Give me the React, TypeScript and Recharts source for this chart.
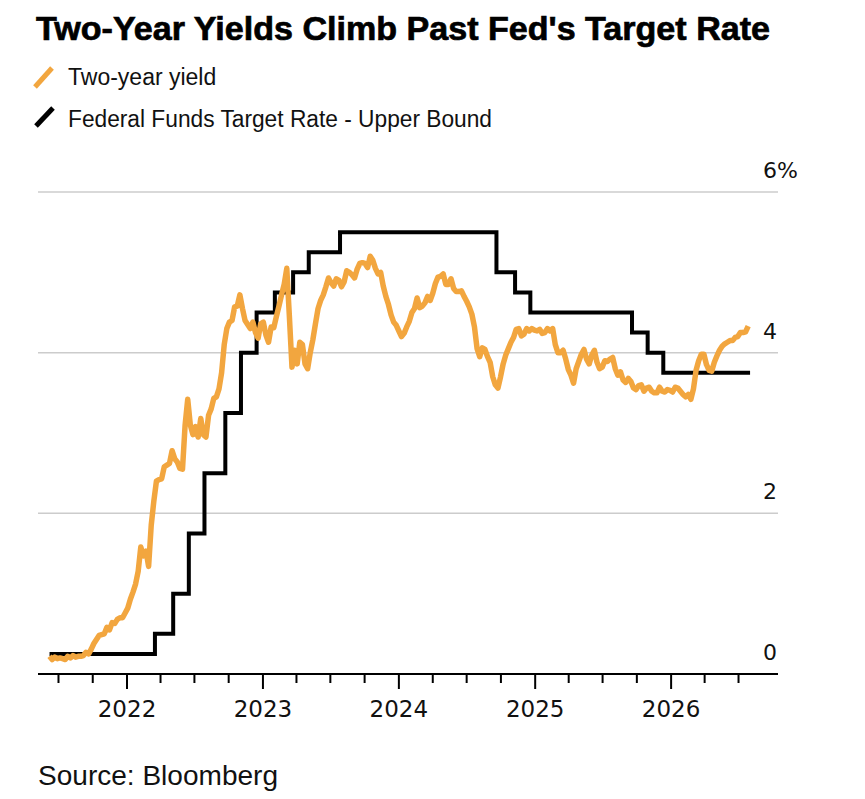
import React from 'react';
import { LineChart, Line, XAxis, YAxis, CartesianGrid } from 'recharts';

// weekly two-year yield readings, first week starting 2021-06-07
const yieldStart = '2021-06-07';
const yieldValues = [
  0.22, 0.18, 0.21, 0.19, 0.2, 0.19, 0.18, 0.22, 0.2, 0.23,
  0.21, 0.22, 0.22, 0.23, 0.27, 0.25, 0.31, 0.38, 0.43, 0.48,
  0.49, 0.5, 0.58, 0.55, 0.64, 0.63, 0.68, 0.7, 0.7, 0.76,
  0.82, 0.93, 1.02, 1.12, 1.28, 1.58, 1.47, 1.53, 1.34, 1.85,
  2.15, 2.4, 2.42, 2.43, 2.58, 2.6, 2.62, 2.78, 2.68, 2.64,
  2.56, 2.55, 3.1, 3.42, 3.1, 2.98, 3.08, 2.95, 3.18, 2.98,
  2.95, 3.22, 3.3, 3.43, 3.45, 3.55, 3.75, 4.1, 4.3, 4.38,
  4.4, 4.57, 4.58, 4.72, 4.55, 4.4, 4.35, 4.3, 4.38, 4.25,
  4.18, 4.36, 4.38, 4.22, 4.13, 4.32, 4.31, 4.45, 4.58, 4.72,
  4.85, 5.05, 4.45, 3.82, 4.03, 3.86, 4.13, 4.1, 3.86, 3.8,
  4.0, 4.16, 4.36, 4.55, 4.65, 4.72, 4.82, 4.93, 4.87, 4.83,
  4.92, 4.9, 4.82, 4.88, 5.02, 5.0, 4.97, 4.93, 5.04, 5.11,
  5.12, 5.11, 5.06, 5.2, 5.15, 5.05, 4.98, 5.0, 4.83, 4.7,
  4.6, 4.47, 4.38, 4.34, 4.27, 4.2, 4.24, 4.32, 4.39, 4.5,
  4.55, 4.68, 4.56, 4.58, 4.62, 4.7, 4.65, 4.74, 4.86, 4.94,
  4.95, 4.98, 4.85, 4.85, 4.92, 4.8, 4.76, 4.76, 4.77, 4.7,
  4.64, 4.57, 4.48, 4.32, 4.05, 3.95, 4.06, 4.04, 3.95, 3.88,
  3.7, 3.6, 3.56, 3.7, 3.86, 3.97, 4.05, 4.13, 4.19, 4.29,
  4.3, 4.21, 4.23, 4.3, 4.27, 4.3, 4.28, 4.27, 4.29, 4.24,
  4.25, 4.3, 4.27, 4.3, 4.1, 4.0, 4.0, 4.03, 3.92, 3.79,
  3.72, 3.62, 3.8, 3.89, 3.98, 4.04, 3.92, 3.86, 3.97, 4.03,
  3.88, 3.8, 3.82, 3.9, 3.89, 3.92, 3.94, 3.8, 3.72, 3.76,
  3.66, 3.63, 3.68, 3.64, 3.56, 3.54, 3.59, 3.6, 3.52, 3.56,
  3.57, 3.52, 3.5, 3.5, 3.57, 3.52, 3.51, 3.54, 3.53, 3.51,
  3.57, 3.56, 3.52, 3.48, 3.45, 3.48, 3.42, 3.55, 3.78, 3.9,
  3.98, 3.98, 3.85, 3.78, 3.77, 3.88, 3.96, 4.03, 4.08, 4.11,
  4.13, 4.15, 4.15, 4.19, 4.2, 4.25, 4.25, 4.26, 4.33,
];

// fed funds upper bound, dates of each change
const fedDates = [
  '2021-06-07', '2022-03-17', '2022-05-05', '2022-06-16', '2022-07-28',
  '2022-09-22', '2022-11-03', '2022-12-15', '2023-02-02', '2023-03-23',
  '2023-05-04', '2023-07-27', '2024-09-19', '2024-11-08', '2024-12-19',
  '2025-09-18', '2025-10-30', '2025-12-11', '2026-08-01',
];
const fedValues = [
  0.25, 0.5, 1.0, 1.75, 2.5,
  3.25, 4.0, 4.5, 4.75, 5.0,
  5.25, 5.5, 5.0, 4.75, 4.5,
  4.25, 4.0, 3.75, 3.75,
];

const xTickDates = [
  '2021-07-01', '2021-10-01',
  '2022-01-01', '2022-04-01', '2022-07-01', '2022-10-01',
  '2023-01-01', '2023-04-01', '2023-07-01', '2023-10-01',
  '2024-01-01', '2024-04-01', '2024-07-01', '2024-10-01',
  '2025-01-01', '2025-04-01', '2025-07-01', '2025-10-01',
  '2026-01-01', '2026-04-01', '2026-07-01',
];
const yTicks = [0, 2, 4, 6];

const ORANGE = '#F2A63F';
const FONT = '"Liberation Sans", Arial, sans-serif';
const NUM_FONT = '"DejaVu Sans", sans-serif';
const DAY = 86400000;

const toTime = (s: string) => Date.parse(s + 'T00:00:00Z');

const yieldData = yieldValues.map((v, i) => ({ t: toTime(yieldStart) + i * 7 * DAY, v }));
const fedData = fedDates.map((d, i) => ({ t: toTime(d), v: fedValues[i] }));
const xDomain = [toTime('2021-05-07'), toTime('2026-10-15')];

const XTick = (props: any) => {
  const { x, y, payload } = props;
  const d = new Date(payload.value);
  const major = d.getUTCMonth() === 0;
  return (
    <g>
      <line x1={x} x2={x} y1={y} y2={y + (major ? 15 : 9)} stroke="#000" strokeWidth={2} />
      {major && (
        <text x={x} y={y + 43} textAnchor="middle" fontFamily={NUM_FONT} fontSize={23} fill="#111">
          {d.getUTCFullYear()}
        </text>
      )}
    </g>
  );
};

const YTick = (props: any) => {
  const { x, y, payload } = props;
  return (
    <text x={x - 15} y={y - 14} textAnchor="start" fontFamily={NUM_FONT} fontSize={22} fill="#111">
      {payload.value === 6 ? '6%' : payload.value}
    </text>
  );
};

export default function App() {
  return (
    <div style={{ position: 'absolute', left: 0, top: 0, width: 865, height: 799, background: '#fff' }}>
      <div style={{ position: 'absolute', left: 0, top: 0 }}>
        <LineChart width={865} height={799} margin={{ top: 192, right: 0, left: 38, bottom: 0 }}>
          <CartesianGrid vertical={false} stroke="#cccccc" strokeWidth={1.5} />
          <XAxis
            dataKey="t"
            type="number"
            domain={xDomain}
            ticks={xTickDates.map(toTime)}
            allowDataOverflow
            height={125}
            tickSize={0}
            tickMargin={0}
            tickLine={false}
            axisLine={{ stroke: '#000', strokeWidth: 2 }}
            tick={<XTick />}
            interval={0}
          />
          <YAxis
            orientation="right"
            domain={[0, 6]}
            ticks={yTicks}
            width={87}
            tickSize={0}
            tickMargin={0}
            axisLine={false}
            tickLine={false}
            tick={<YTick />}
            interval={0}
          />
          <Line
            data={fedData}
            dataKey="v"
            type="stepAfter"
            stroke="#000"
            strokeWidth={4}
            dot={false}
            isAnimationActive={false}
          />
          <Line
            data={yieldData}
            dataKey="v"
            type="linear"
            stroke={ORANGE}
            strokeWidth={5.5}
            strokeLinejoin="round"
            dot={false}
            isAnimationActive={false}
          />
        </LineChart>
      </div>
      <svg width={865} height={799} style={{ position: 'absolute', left: 0, top: 0, pointerEvents: 'none' }}>
        <text
          x={36}
          y={40}
          fontFamily={FONT}
          fontWeight={700}
          fontSize={34}
          fill="#000"
          stroke="#000"
          strokeWidth={0.7}
          textLength={734}
          lengthAdjust="spacingAndGlyphs"
        >
          Two-Year Yields Climb Past Fed's Target Rate
        </text>
        <line x1={35} y1={87} x2={52} y2={68} stroke={ORANGE} strokeWidth={5} />
        <text x={68} y={85} fontFamily={FONT} fontSize={23} fill="#111">
          Two-year yield
        </text>
        <line x1={36} y1={126} x2={53} y2={108} stroke="#000" strokeWidth={5} />
        <text x={68} y={127} fontFamily={FONT} fontSize={23} fill="#111" textLength={424} lengthAdjust="spacingAndGlyphs">
          Federal Funds Target Rate - Upper Bound
        </text>
        <text x={38} y={785} fontFamily={FONT} fontSize={27} fill="#111" textLength={240} lengthAdjust="spacingAndGlyphs">
          Source: Bloomberg
        </text>
      </svg>
    </div>
  );
}
